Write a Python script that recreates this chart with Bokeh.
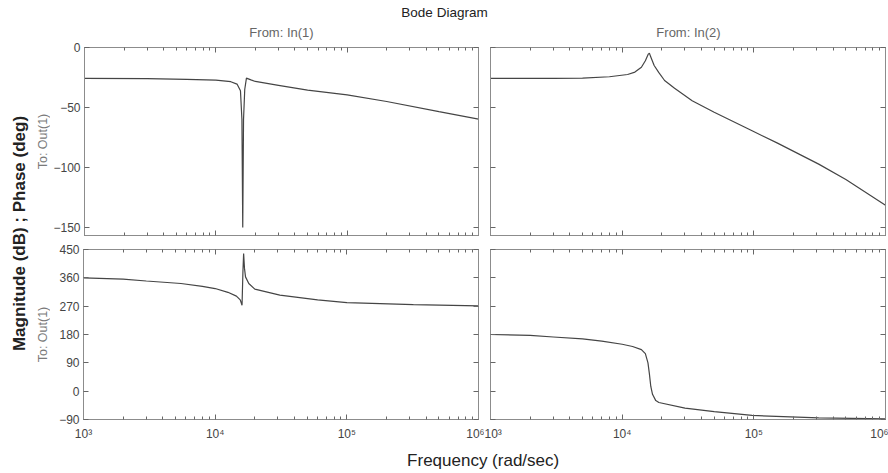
import math
from bokeh.plotting import figure
from bokeh.models import Range1d, LinearAxis, LogAxis, FixedTicker
from bokeh.layouts import row, column
from bokeh.core.properties import value
from bokeh.embed import file_html
from bokeh.resources import INLINE

# ---------------- data ----------------
freq_mag_11 = [1000, 3000, 6000, 10000, 13000, 14500, 15400, 15800, 16030, 16250,
               16600, 17100, 18500, 20000, 30000, 50000, 100000, 200000, 500000, 1000000]
mag_11 = [-25.8, -26.0, -26.5, -27.2, -28.5, -30.5, -36, -60, -150, -60,
          -35, -25.5, -27.0, -28.3, -31.5, -35.5, -39.5, -45, -53.5, -59.7]

freq_mag_12 = [1000, 3000, 5000, 8000, 11000, 12500, 14000, 15000, 15800, 16100, 16500,
               17500, 19000, 21000, 25000, 34000, 50000, 97000, 150000, 311000, 500000, 1000000]
mag_12 = [-25.8, -25.8, -25.5, -24.4, -22.5, -20.5, -16.5, -11, -5.5, -4.7, -8,
          -15, -21, -27.5, -34, -44.4, -54, -69.4, -79.5, -97.2, -110, -131.4]

freq_ph_11 = [1000, 2000, 3000, 5500, 8000, 10000, 12500, 14500, 15500, 16000, 16250,
              16450, 16700, 17000, 18000, 20000, 31000, 60000, 100000, 320000, 1000000]
ph_11 = [360, 356, 350, 342, 333, 326, 314, 302, 290, 273, 380,
         437, 390, 363, 342, 324, 305, 290, 281, 275, 271]

freq_ph_12 = [1000, 2000, 3000, 5000, 7000, 10000, 12000, 14000, 15000, 15700, 16100,
              16500, 17000, 18000, 19000, 30000, 50000, 97000, 311000, 1000000]
ph_12 = [180, 177, 172, 166, 159, 149, 142, 132, 119, 90, 55,
         15, -10, -30, -36, -54, -65, -77, -85, -88]

x_ticks = [1000, 10000, 100000, 1000000]
x_tick_labels = ["10³", "10⁴", "10⁵", "10⁶"]
mag_ticks = [-150, -100, -50, 0]
ph_ticks = [-90, 0, 90, 180, 270, 360, 450]
mag_range = (-156.7, 0)
ph_range = (-90, 450)

title_text = "Bode Diagram"
col_titles = ["From: In(1)", "From: In(2)"]
row_title = "To: Out(1)"
ylabel_text = "Magnitude (dB) ; Phase (deg)"
xlabel_text = "Frequency  (rad/sec)"

# ---------------- styling ----------------
FONT = "Liberation Sans"
AXIS_COLOR = "#8c8c8c"
TICK_COLOR = "#666666"
LINE_COLOR = "#454545"
LABEL_COLOR = "#444444"

minor_ticks = [m * 10 ** e for e in (3, 4, 5) for m in range(2, 10)]


def style_axis(ax, labels, standoff=4):
    ax.axis_line_color = AXIS_COLOR
    ax.major_tick_line_color = TICK_COLOR
    ax.minor_tick_line_color = TICK_COLOR
    ax.major_tick_in = 5
    ax.major_tick_out = 0
    ax.minor_tick_in = 3
    ax.minor_tick_out = 0
    ax.axis_label = None
    if labels:
        ax.major_label_text_font = FONT
        ax.major_label_text_font_size = "12px"
        ax.major_label_text_color = LABEL_COLOR
        ax.major_label_standoff = standoff
    else:
        ax.major_label_text_font_size = "1px"
        ax.major_label_text_alpha = 0
        ax.major_label_standoff = 0


def panel(width, height, bl, br, bt, bb, yr, yticks, freq, vals, ylabels, xlabels):
    p = figure(width=width, height=height, x_axis_type="log",
               x_range=Range1d(1000, 1000000), y_range=Range1d(*yr),
               output_backend="svg", toolbar_location=None,
               min_border_left=bl, min_border_right=br,
               min_border_top=bt, min_border_bottom=bb)
    p.grid.visible = False
    p.outline_line_color = AXIS_COLOR
    p.background_fill_color = "white"
    p.border_fill_color = "white"

    xt = FixedTicker(ticks=x_ticks, minor_ticks=minor_ticks)
    yt = FixedTicker(ticks=yticks, minor_ticks=[])

    bx = p.xaxis[0]
    bx.ticker = xt
    style_axis(bx, xlabels, standoff=7)
    if xlabels:
        bx.major_label_overrides = {t: s for t, s in zip(x_ticks, x_tick_labels)}

    ly = p.yaxis[0]
    ly.ticker = yt
    style_axis(ly, ylabels, standoff=4)

    ax_top = LogAxis(ticker=FixedTicker(ticks=x_ticks, minor_ticks=minor_ticks))
    style_axis(ax_top, False)
    p.add_layout(ax_top, "above")

    ax_right = LinearAxis(ticker=FixedTicker(ticks=yticks, minor_ticks=[]))
    style_axis(ax_right, False)
    p.add_layout(ax_right, "right")

    p.line(freq, vals, line_color=LINE_COLOR, line_width=1.2)
    return p


# geometry (frames at x 83..478 / 490..885, y 47..235 / 249..419)
LW, RW = 434, 404
TITLE_H = 42
TH, BH = 200, 203
XL_H = 27
TOTAL_H = TITLE_H + TH + BH + XL_H

p11 = panel(LW, TH, 33, 6, 5, 7, mag_range, mag_ticks, freq_mag_11, mag_11, True, False)
p12 = panel(RW, TH, 6, 3, 5, 7, mag_range, mag_ticks, freq_mag_12, mag_12, False, False)
p21 = panel(LW, BH, 33, 6, 7, 26, ph_range, ph_ticks, freq_ph_11, ph_11, True, True)
p22 = panel(RW, BH, 6, 3, 7, 26, ph_range, ph_ticks, freq_ph_12, ph_12, False, True)


def text_fig(w, h):
    f = figure(width=w, height=h, x_range=Range1d(0, w), y_range=Range1d(0, h),
               output_backend="svg", toolbar_location=None,
               min_border_left=0, min_border_right=0, min_border_top=0, min_border_bottom=0)
    f.axis.visible = False
    f.grid.visible = False
    f.outline_line_color = None
    f.background_fill_color = "white"
    f.border_fill_color = "white"
    return f


# left label strip (page x 0..50)
ylab = text_fig(50, TOTAL_H)
ylab.text(x=[19], y=[TOTAL_H - 233], text=[ylabel_text], angle=math.pi / 2,
          text_align="center", text_baseline="middle",
          text_font=value(FONT), text_font_size="17px", text_font_style="bold",
          text_color="#222222")
ylab.text(x=[42, 42], y=[TOTAL_H - 141, TOTAL_H - 334], text=[row_title, row_title],
          angle=math.pi / 2, text_align="center", text_baseline="middle",
          text_font=value(FONT), text_font_size="12.5px", text_color="#7a7a7a")

# title strip (page x 50..888, y 0..42)
tfig = text_fig(838, TITLE_H)
tfig.text(x=[444 - 50], y=[TITLE_H - 12], text=[title_text], text_align="center",
          text_baseline="middle", text_font=value(FONT), text_font_size="13.5px",
          text_color="#222222")
tfig.text(x=[281 - 50, 688 - 50], y=[TITLE_H - 32, TITLE_H - 32], text=col_titles,
          text_align="center", text_baseline="middle", text_font=value(FONT),
          text_font_size="13px", text_color="#666666")

# x label strip (page x 50..888, y 445..472)
xfig = text_fig(838, XL_H)
xfig.text(x=[485 - 50], y=[XL_H - (460 - 445)], text=[xlabel_text], text_align="center",
          text_baseline="middle", text_font=value(FONT), text_font_size="17px",
          text_color="#222222")

layout = row(ylab, column(tfig, row(p11, p12), row(p21, p22), xfig))

open("out.html", "w").write(file_html(layout, INLINE))
